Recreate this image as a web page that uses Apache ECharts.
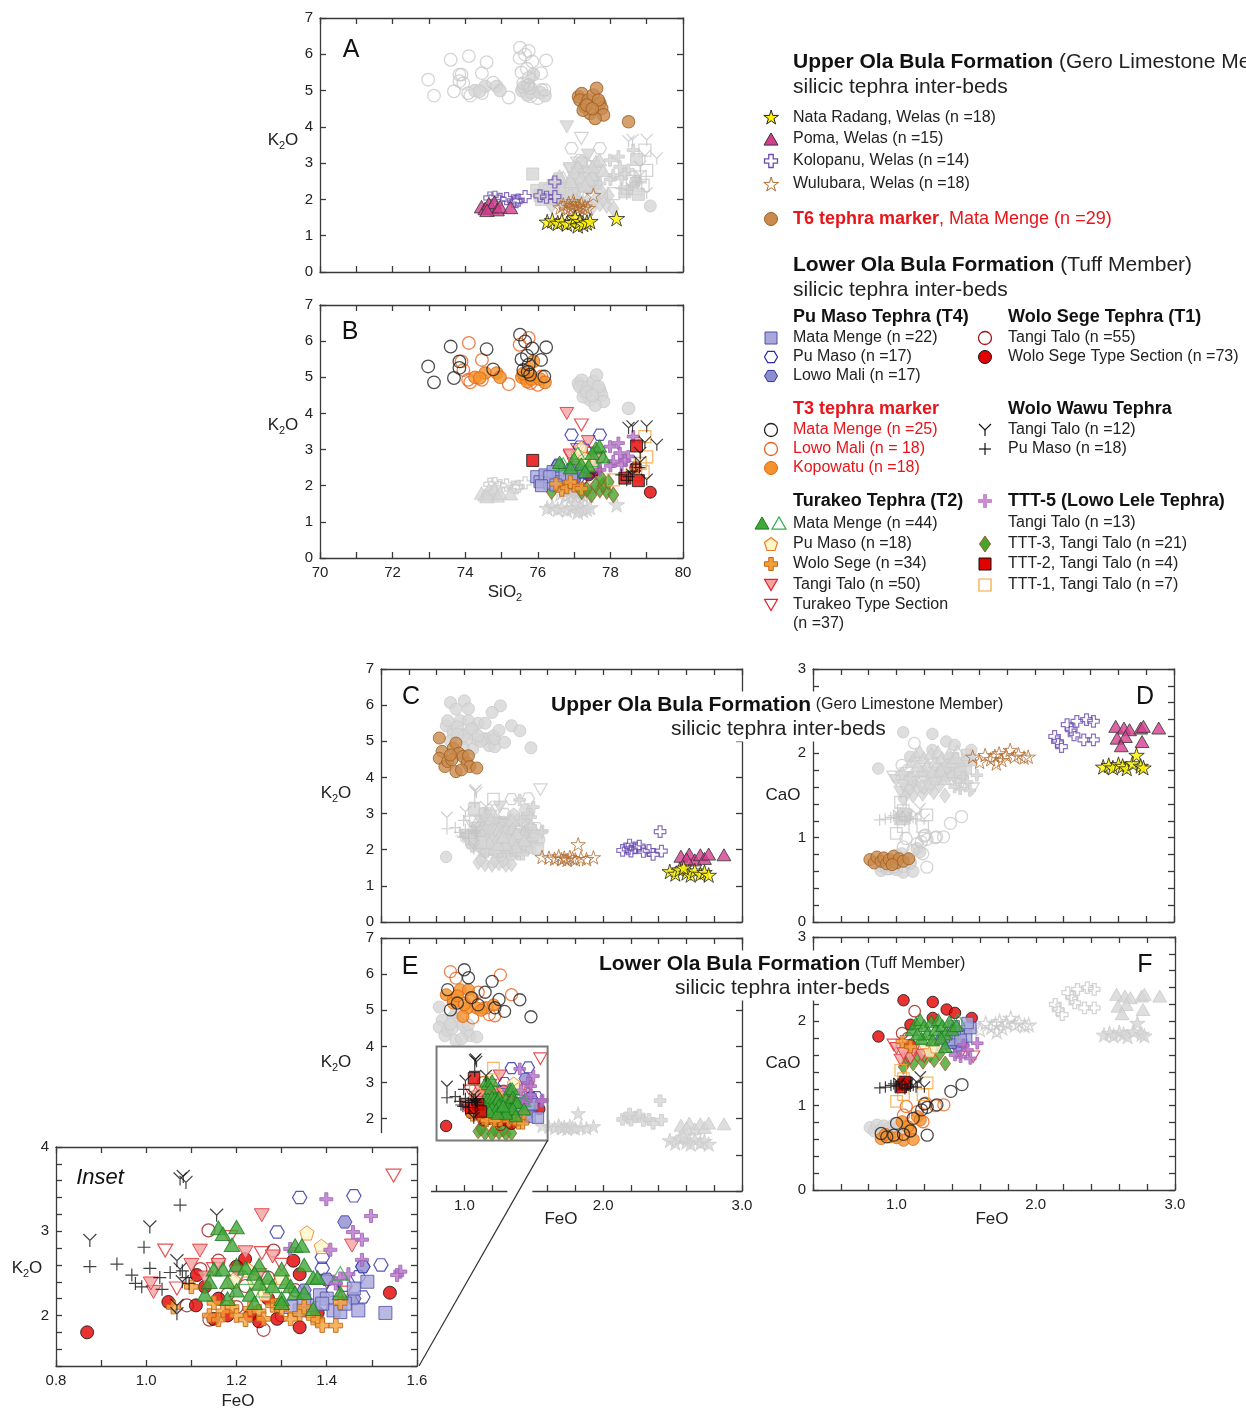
<!DOCTYPE html>
<html><head><meta charset="utf-8">
<script src="https://cdn.jsdelivr.net/npm/echarts@6/dist/echarts.min.js"></script>
<style>html,body{margin:0;padding:0;background:#fff}#c{width:1246px;height:1410px}</style>
</head><body><div id="c"></div>
<script>
// ================= DATA =================
// Upper Ola Bula Formation
const nataSiK = [[76.26,1.38],[76.4,1.42],[76.55,1.35],[76.66,1.4],[76.8,1.33],[76.94,1.37],[77.03,1.5],[77.1,1.28],[77.16,1.4],[77.25,1.32],[77.35,1.36],[77.44,1.4],[78.17,1.48]];
const nataFeK = [[2.48,1.4],[2.52,1.33],[2.55,1.45],[2.6,1.36],[2.63,1.3],[2.66,1.42],[2.7,1.33],[2.73,1.38],[2.76,1.3],[2.58,1.5]];
const nataFeCa = [[2.49,1.84],[2.53,1.86],[2.56,1.83],[2.6,1.87],[2.63,1.85],[2.66,1.82],[2.7,1.88],[2.73,1.98],[2.76,1.85],[2.78,1.83]];

const pomaSiK = [[74.45,1.8],[74.55,1.75],[74.65,1.88],[74.72,1.78],[74.8,1.92],[74.88,1.72],[74.96,1.8],[75.25,1.78],[74.6,1.7]];
const pomaFeK = [[2.56,1.82],[2.62,1.88],[2.66,1.72],[2.7,1.86],[2.73,1.76],[2.76,1.88],[2.87,1.86],[2.6,1.75]];
const pomaFeCa = [[2.58,2.32],[2.64,2.3],[2.68,2.28],[2.76,2.3],[2.78,2.32],[2.89,2.3],[2.59,2.18],[2.65,2.2],[2.62,2.09],[2.77,2.14]];

const koloSiK = [[74.68,2.04],[74.82,2.06],[74.96,2.0],[75.14,2.02],[75.33,1.96],[75.46,1.98],[75.65,2.08],[76.06,2.1],[76.24,2.06],[76.47,2.08],[76.47,2.48],[75.4,1.94]];
const koloFeK = [[2.14,1.98],[2.18,2.02],[2.2,1.96],[2.23,2.05],[2.26,2.1],[2.29,1.95],[2.33,1.98],[2.36,1.87],[2.42,1.96],[2.41,2.5],[2.19,2.13]];
const koloFeCa = [[2.14,2.2],[2.16,2.14],[2.19,2.08],[2.23,2.34],[2.26,2.28],[2.28,2.22],[2.3,2.38],[2.37,2.4],[2.42,2.38],[2.35,2.16],[2.42,2.16]];

const wuluSiK = [[76.62,1.78],[76.7,1.85],[76.78,1.72],[76.85,1.9],[76.9,1.8],[76.95,1.75],[77.0,1.86],[77.05,1.7],[77.1,1.82],[77.15,1.78],[77.2,1.88],[77.25,1.74],[77.3,1.8],[77.38,1.76],[76.98,1.95],[77.53,2.12]];
const wuluFeK = [[1.56,1.8],[1.61,1.78],[1.65,1.75],[1.68,1.82],[1.7,1.74],[1.72,1.78],[1.74,1.72],[1.76,1.8],[1.78,1.76],[1.8,1.73],[1.84,1.77],[1.88,1.74],[1.93,1.79],[1.82,2.15]];
const wuluFeCa = [[1.55,1.96],[1.6,1.9],[1.64,1.98],[1.68,1.93],[1.71,1.97],[1.74,2.0],[1.76,1.92],[1.79,1.98],[1.82,2.04],[1.85,1.96],[1.88,1.99],[1.92,1.95],[1.95,1.96],[1.72,1.88]];

const t6SiK = [[77.12,4.83],[77.21,4.92],[77.16,4.74],[77.3,4.55],[77.44,4.37],[77.39,4.74],[77.53,4.88],[77.62,5.06],[77.71,4.65],[77.76,4.51],[77.81,4.33],[77.67,4.74],[77.25,4.46],[77.58,4.23],[77.35,4.6],[77.5,4.5],[78.5,4.14]];
const t6FeK = [[0.82,5.09],[0.84,4.72],[0.82,4.53],[0.86,4.3],[0.88,4.44],[0.92,4.81],[0.94,4.95],[0.96,4.67],[0.94,4.16],[0.99,4.58],[1.02,4.4],[1.03,4.6],[1.04,4.3],[1.09,4.26],[0.91,4.49],[0.98,4.21],[0.9,4.62]];
const t6FeCa = [[0.81,0.74],[0.84,0.7],[0.86,0.77],[0.89,0.72],[0.91,0.76],[0.93,0.69],[0.95,0.74],[0.98,0.78],[1.0,0.7],[1.02,0.75],[1.05,0.72],[1.09,0.75],[0.97,0.68]];

// Lower Ola Bula Formation
const pmMMSiK = [[75.97,2.25],[76.06,2.11],[76.2,2.3],[76.33,2.07],[76.42,2.39],[76.56,2.21],[76.61,2.11],[76.75,2.3],[76.93,2.25],[76.33,2.25],[76.1,2.0],[76.5,2.02]];
const pmMMFeK = [[1.37,2.12],[1.385,2.24],[1.4,2.2],[1.415,2.06],[1.43,2.04],[1.44,2.14],[1.46,2.32],[1.47,2.06],[1.49,2.4],[1.53,2.03],[1.34,2.06],[1.35,2.18],[1.39,2.14],[1.32,2.1]];
const pmMMFeCa = [[1.33,1.74],[1.39,1.78],[1.44,1.86],[1.5,1.82],[1.53,1.92],[1.51,1.98],[1.41,1.94],[1.34,1.82],[1.46,1.78]];

const pmPMSiK = [[76.93,3.41],[77.71,3.41],[77.16,3.08],[77.07,2.58],[77.3,2.99],[76.56,2.58],[77.25,2.44],[76.98,2.3],[77.4,2.35],[77.1,2.2],[77.5,2.5]];
const pmPMFeK = [[1.34,3.4],[1.46,3.42],[1.29,2.99],[1.39,2.69],[1.39,2.56],[1.52,2.6],[1.48,2.58],[1.47,2.46],[1.48,2.22],[1.44,2.36],[1.415,2.3],[1.39,2.14]];
const pmPMFeCa = [[1.29,1.72],[1.36,1.76],[1.39,1.7],[1.44,1.72],[1.32,1.78]];

const lowoSiK = [[76.55,2.55],[76.9,2.45],[77.2,2.35],[77.35,2.5],[77.0,2.15]];
const lowoFeK = [[1.44,3.11],[1.48,2.58],[1.4,2.43],[1.46,2.2],[1.35,2.3]];
const lowoFeCa = [[1.44,1.7],[1.4,1.74],[1.47,1.76]];

const t3mmSiK = [[72.98,5.3],[73.14,4.86],[73.6,5.85],[73.69,4.98],[73.84,5.44],[73.84,5.26],[74.59,5.78],[74.77,5.22],[75.51,6.18],[75.65,5.99],[75.79,5.07],[76.09,5.48],[76.23,5.83],[76.18,5.02],[75.7,5.6],[75.75,5.35],[75.6,5.2],[75.85,5.8],[75.55,5.5],[75.72,5.15]];
const t3mmFeK = [[1.0,6.12],[0.88,5.57],[0.9,5.01],[1.2,5.8],[1.22,5.07],[1.4,5.29],[1.48,4.82],[1.29,4.97],[1.05,5.35],[1.1,5.15],[0.95,5.2],[1.15,5.5],[1.03,5.9],[1.25,5.3]];
const t3mmFeCa = [[1.22,0.65],[1.39,1.17],[1.47,1.25],[1.29,1.01],[1.18,0.95],[1.0,0.79],[0.98,0.65],[0.89,0.67],[1.12,0.85],[1.2,1.02],[1.05,0.66],[1.1,0.7],[1.22,0.98],[0.93,0.63]];

const t3lmSiK = [[73.9,5.44],[74.08,4.93],[74.14,4.86],[74.46,5.48],[74.46,4.93],[75.2,4.81],[75.5,5.9],[75.75,6.09],[75.8,4.84],[76.0,4.79],[75.66,4.98],[76.1,5.02],[74.1,5.95],[73.95,5.2]];
const t3lmFeK = [[0.9,6.07],[0.94,5.89],[1.26,5.98],[1.34,5.43],[1.16,5.07],[1.18,4.88],[1.06,4.79],[1.0,5.2],[1.1,5.5],[1.22,4.85]];
const t3lmFeCa = [[1.07,0.99],[1.21,1.03],[1.34,1.01],[1.05,0.89],[1.19,0.81],[1.15,0.93],[1.28,1.0]];

const kopoSiK = [[74.27,5.0],[74.55,5.12],[74.87,5.12],[74.96,5.0],[75.56,5.0],[75.71,4.88],[75.83,4.95],[76.06,4.95],[76.2,4.86],[75.88,5.44],[75.75,5.16],[74.4,4.98],[75.6,5.1]];
const kopoFeK = [[0.87,5.43],[0.92,5.29],[0.97,5.57],[1.03,5.57],[1.06,5.34],[1.09,5.06],[1.02,5.06],[1.14,5.06],[1.21,5.15],[0.99,4.83],[0.92,5.2],[1.0,5.15],[1.12,5.0],[0.95,5.4]];
const kopoFeCa = [[0.89,0.61],[0.95,0.63],[1.05,0.59],[1.1,0.71],[1.15,0.87],[1.17,0.83],[1.04,0.81],[1.08,0.75],[0.92,0.66],[1.0,0.62],[1.12,0.6]];

const t2mmSiK = [[77.6,3.05],[77.7,3.1],[77.5,2.9],[77.0,2.75],[77.2,2.6],[76.9,2.5],[77.4,2.55],[76.6,2.65],[77.8,2.8],[77.3,2.4]];
const t2mmFeK = [[1.16,3.04],[1.17,2.97],[1.2,3.05],[1.19,2.84],[1.33,2.83],[1.345,2.83],[1.15,2.55],[1.17,2.55],[1.14,2.4],[1.18,2.4],[1.2,2.6],[1.22,2.57],[1.25,2.6],[1.24,2.5],[1.27,2.45],[1.3,2.55],[1.31,2.4],[1.32,2.35],[1.35,2.6],[1.37,2.45],[1.38,2.45],[1.25,2.38],[1.2,2.3],[1.13,2.25],[1.23,2.25],[1.18,2.2],[1.3,2.2],[1.33,2.27],[1.35,2.27],[1.43,2.27],[1.37,2.08],[1.3,2.15],[1.24,2.15],[1.28,2.35]];
const t2mmFeCa = [[1.11,1.9],[1.14,1.98],[1.17,2.02],[1.2,1.95],[1.22,1.85],[1.25,2.0],[1.28,1.9],[1.3,2.02],[1.33,1.95],[1.35,1.85],[1.38,2.0],[1.4,1.9],[1.43,1.95],[1.18,1.8],[1.26,1.78],[1.32,1.8],[1.15,1.85],[1.35,1.7]];
const t2mmOpenSiK = [[76.7,2.6],[77.1,2.9],[77.5,2.7]];
const t2mmOpenFeK = [[1.43,2.5],[1.26,2.3],[1.22,2.45]];
const t2mmOpenFeCa = [[1.44,2.02],[1.3,1.88],[1.2,1.8]];

const t2pmSiK = [[77.2,3.04],[77.1,2.85],[77.5,2.6],[77.3,2.75]];
const t2pmFeK = [[1.356,2.98],[1.388,2.82],[1.226,2.54],[1.263,2.26],[1.27,2.34],[1.193,2.42],[1.3,2.45],[1.24,2.4]];
const t2pmFeCa = [[1.24,1.65],[1.2,1.75],[1.28,1.7]];

const t2wsSiK = [[76.66,1.88],[76.8,1.95],[77.0,2.0],[76.5,2.05],[77.2,1.92],[76.9,2.1]];
const t2wsFeK = [[1.06,2.1],[1.14,2.0],[1.15,2.15],[1.17,2.05],[1.19,2.1],[1.2,2.0],[1.23,2.08],[1.25,2.05],[1.26,1.96],[1.28,2.12],[1.3,2.08],[1.32,1.96],[1.34,2.02],[1.37,1.97],[1.38,1.95],[1.39,1.88],[1.42,1.88],[1.43,2.15],[1.35,2.1],[1.16,1.95],[1.22,1.95],[1.1,2.34],[1.29,2.12]];
const t2wsFeCa = [[1.04,1.76],[1.1,1.7]];

const t2ttSiK = [[76.8,4.0],[77.39,3.22],[76.89,2.85],[77.6,2.75],[77.0,2.6]];
const t2ttFeK = [[1.256,3.19],[1.119,2.77],[1.016,2.28],[1.01,2.38],[1.456,2.83],[1.1,2.6],[1.22,2.75],[1.16,2.6],[1.13,2.45],[1.2,2.52],[1.28,2.7],[1.25,2.48]];
const t2ttFeCa = [[1.0,1.68],[1.03,1.54],[1.1,1.56],[1.18,1.6],[1.05,1.62],[1.12,1.65]];

const t2typeSiK = [[77.2,3.68],[77.1,3.0],[77.5,2.9],[76.9,2.8]];
const t2typeFeK = [[1.548,3.66],[1.042,2.77],[1.186,2.93],[1.256,2.74],[1.068,2.32],[1.44,2.27],[1.4,2.4],[1.15,2.55],[1.3,2.6],[1.2,2.4]];
const t2typeFeCa = [[1.55,1.58],[0.98,1.72],[1.08,1.58],[1.2,1.58],[1.46,1.62]];

const t1ttSiK = [[77.2,3.0],[77.3,2.75],[77.4,2.5],[77.0,2.35],[77.2,2.2],[77.5,2.4],[77.7,2.8]];
const t1ttFeK = [[1.138,3.01],[1.282,2.77],[1.09,2.12],[1.26,1.83],[1.14,1.95],[1.2,2.1],[1.22,2.35],[1.3,2.0],[1.33,2.3],[1.18,2.25],[1.12,2.55],[1.27,2.45],[1.36,2.05],[1.16,2.65]];
const t1ttFeCa = [[1.13,2.12],[1.04,1.86],[1.08,1.8]];

const t1typeSiK = [[79.1,1.82],[77.4,2.3],[77.6,2.45],[77.0,2.2],[76.8,2.35],[78.7,2.5]];
const t1typeFeK = [[0.869,1.8],[1.54,2.27],[1.326,2.65],[1.34,1.86],[1.219,2.67],[1.11,2.12],[1.049,2.16],[1.112,2.48],[1.149,1.96],[1.18,2.0],[1.23,2.0],[1.25,1.93],[1.29,1.96],[1.34,2.49],[1.38,2.03],[1.13,2.34],[1.2,2.58],[1.27,2.2],[1.16,2.2]];
const t1typeFeCa = [[0.87,1.82],[1.05,2.25],[1.26,2.23],[1.36,2.14],[1.42,2.1],[1.54,2.04],[1.1,1.96],[1.1,1.72],[1.26,2.04]];

const wwttSiK = [[78.61,3.64],[78.5,3.6],[79.0,3.64],[79.28,3.13],[78.95,3.2],[78.82,2.9],[78.82,2.65],[79.0,2.17],[78.6,2.3]];
const wwttFeK = [[0.875,2.89],[1.008,3.05],[1.075,3.62],[1.082,3.65],[1.088,3.58],[1.156,3.19],[1.068,2.65],[1.075,2.55],[1.08,2.4],[1.068,2.12],[1.068,2.02]];
const wwttFeCa = [[1.17,1.34],[1.02,1.26],[1.08,1.25],[1.12,1.24],[1.15,1.27],[1.2,1.22]];

const wwpmSiK = [[78.3,2.3],[78.5,2.25],[78.6,2.4],[78.45,2.15],[78.7,2.6],[78.8,2.5]];
const wwpmFeK = [[0.875,2.58],[0.935,2.61],[0.968,2.48],[0.976,2.38],[0.99,2.34],[0.995,2.81],[1.008,2.56],[1.03,2.45],[1.035,2.31],[1.053,2.51],[1.075,3.31],[1.08,2.53],[1.088,2.45],[1.095,2.38]];
const wwpmFeCa = [[0.88,1.21],[0.92,1.22],[0.96,1.24],[1.0,1.23],[1.04,1.25],[1.06,1.2],[1.1,1.23],[1.14,1.22],[0.98,1.26]];

const ttt5SiK = [[78.63,3.36],[78.22,3.18],[77.99,3.08],[78.26,2.9],[78.49,2.81],[78.08,2.67],[78.31,2.58],[77.71,2.44],[78.0,2.55],[78.4,2.7]];
const ttt5FeK = [[1.399,3.38],[1.498,3.18],[1.458,2.99],[1.478,2.9],[1.408,2.78],[1.319,2.79],[1.478,2.66],[1.448,2.49],[1.43,2.44],[1.563,2.52],[1.556,2.48],[1.42,2.38]];
const ttt5FeCa = [[1.48,1.72],[1.58,1.74],[1.51,1.66],[1.46,1.58],[1.53,1.56],[1.42,1.6]];

const ttt3SiK = [[76.38,1.84],[77.21,1.84],[77.48,1.75],[77.71,1.88],[77.9,1.84],[78.08,1.75],[77.6,2.02],[77.8,2.02],[77.75,2.21],[77.35,1.9],[77.95,2.1]];
const ttt3FeK = [[1.1,1.65],[1.15,1.6],[1.2,1.58],[1.25,1.62],[1.3,1.58],[1.34,1.6],[1.12,1.72],[1.22,1.7],[1.28,1.7]];
const ttt3FeCa = [[1.05,1.46],[1.12,1.5],[1.19,1.52],[1.27,1.54],[1.35,1.5],[1.15,1.6],[1.24,1.6],[1.31,1.62],[1.08,1.55]];

const ttt2SiK = [[75.86,2.7],[78.72,3.1],[78.4,2.21],[78.77,2.14]];
const ttt2FeK = [[1.07,3.12],[1.1,2.4],[1.05,2.3],[1.12,2.2]];
const ttt2FeCa = [[1.05,1.25],[1.07,1.27],[1.03,1.22],[1.06,1.28]];

const ttt1SiK = [[78.95,3.36],[78.82,2.62],[78.9,2.39],[78.08,2.16],[79.0,2.8],[78.7,2.3],[78.6,2.5]];
const ttt1FeK = [[1.21,3.4],[1.15,3.0],[1.1,2.6],[1.25,2.5],[1.18,2.3],[1.08,2.8],[1.3,2.7]];
const ttt1FeCa = [[1.03,1.42],[1.05,1.32],[1.05,1.23],[1.05,1.13],[1.22,1.27],[1.19,1.13],[1.0,1.05]];

// ================= STYLE / LAYOUT =================
const FONT = '"Liberation Sans", Arial, sans-serif';
const T = 'rgba(255,255,255,0)';
const SHAPES = {
  star: [[50,0],[61,35],[98,35],[68,57],[79,91],[50,70],[21,91],[32,57],[2,35],[39,35]],
  tri: [[50,0],[100,87],[0,87]],
  invtri: [[0,0],[100,0],[50,87]],
  cross: [[33,0],[67,0],[67,33],[100,33],[100,67],[67,67],[67,100],[33,100],[33,67],[0,67],[0,33],[33,33]],
  plus5: [[38,0],[62,0],[62,38],[100,38],[100,62],[62,62],[62,100],[38,100],[38,62],[0,62],[0,38],[38,38]],
  hex: [[25,0],[75,0],[100,43],[75,86],[25,86],[0,43]],
  pent: [[50,0],[100,38],[81,100],[19,100],[0,38]],
  diamond: [[35,0],[70,50],[35,100],[0,50]]
};
const SYM = {circle:'circle', square:'rect',
  Y:'path://M0,0 L50,50 L100,0 M50,50 L50,100',
  plus:'path://M50,0 L50,100 M0,50 L100,50'};
Object.keys(SHAPES).forEach(k => { SYM[k] = 'path://M' + SHAPES[k].map(p => p.join(',')).join(' L') + ' Z'; });

const upperDefs = [
  {sym:'star', k:1.25, fill:T, stroke:'#b36b2c', SiK:wuluSiK, FeK:wuluFeK, FeCa:wuluFeCa},
  {sym:'cross', k:1.0, fill:T, stroke:'#6a4cb0', bw:1.2, SiK:koloSiK, FeK:koloFeK, FeCa:koloFeCa},
  {sym:'circle', k:1.05, fill:'#c98a4b', stroke:'#9c5f25', SiK:t6SiK, FeK:t6FeK, FeCa:t6FeCa},
  {sym:'tri', k:1.2, fill:'#d63f8e', stroke:'#333', SiK:pomaSiK, FeK:pomaFeK, FeCa:pomaFeCa},
  {sym:'star', k:1.35, fill:'#fff200', stroke:'#222', SiK:nataSiK, FeK:nataFeK, FeCa:nataFeCa}
];
const lowerDefs = [
  {sym:'circle', k:1.05, fill:T, stroke:'#e8631c', bw:1.3, inset:false, SiK:t3lmSiK, FeK:t3lmFeK, FeCa:t3lmFeCa},
  {sym:'circle', k:1.05, fill:'#f5922c', stroke:'#e06512', inset:false, SiK:kopoSiK, FeK:kopoFeK, FeCa:kopoFeCa},
  {sym:'circle', k:1.05, fill:T, stroke:'#222', bw:1.3, inset:false, SiK:t3mmSiK, FeK:t3mmFeK, FeCa:t3mmFeCa},
  {sym:'diamond', k:1.3, fill:'#45a52e', stroke:'#9c5e26', inset:false, SiK:ttt3SiK, FeK:ttt3FeK, FeCa:ttt3FeCa},
  {sym:'circle', k:1.0, fill:T, stroke:'#a01414', bw:1.2, SiK:t1ttSiK, FeK:t1ttFeK, FeCa:t1ttFeCa},
  {sym:'circle', k:1.0, fill:'#e30000', stroke:'#111', SiK:t1typeSiK, FeK:t1typeFeK, FeCa:t1typeFeCa},
  {sym:'invtri', k:1.15, fill:T, stroke:'#e2242a', bw:1.2, SiK:t2typeSiK, FeK:t2typeFeK, FeCa:t2typeFeCa},
  {sym:'invtri', k:1.15, fill:'#f3a2a2', stroke:'#e2242a', SiK:t2ttSiK, FeK:t2ttFeK, FeCa:t2ttFeCa},
  {sym:'hex', k:1.1, fill:T, stroke:'#2b2ba8', bw:1.2, SiK:pmPMSiK, FeK:pmPMFeK, FeCa:pmPMFeCa},
  {sym:'hex', k:1.1, fill:'#8c8cd0', stroke:'#32329a', SiK:lowoSiK, FeK:lowoFeK, FeCa:lowoFeCa},
  {sym:'square', k:1.0, fill:'#a8a8dc', stroke:'#4e4ea6', SiK:pmMMSiK, FeK:pmMMFeK, FeCa:pmMMFeCa},
  {sym:'pent', k:1.1, fill:'#fff6c8', stroke:'#f07a22', SiK:t2pmSiK, FeK:t2pmFeK, FeCa:t2pmFeCa},
  {sym:'square', k:1.0, fill:T, stroke:'#f5a23a', bw:1.2, inset:false, SiK:ttt1SiK, FeK:ttt1FeK, FeCa:ttt1FeCa},
  {sym:'cross', k:1.05, fill:'#f4a03a', stroke:'#c0620e', SiK:t2wsSiK, FeK:t2wsFeK, FeCa:t2wsFeCa},
  {sym:'plus5', k:1.0, fill:'#b574c8', stroke:'#a060b8', SiK:ttt5SiK, FeK:ttt5FeK, FeCa:ttt5FeCa},
  {sym:'tri', k:1.2, fill:T, stroke:'#2fae4a', bw:1.2, SiK:t2mmOpenSiK, FeK:t2mmOpenFeK, FeCa:t2mmOpenFeCa},
  {sym:'tri', k:1.2, fill:'#3fa83a', stroke:'#1e7a1e', SiK:t2mmSiK, FeK:t2mmFeK, FeCa:t2mmFeCa},
  {sym:'square', k:1.0, fill:'#e30000', stroke:'#111', inset:false, SiK:ttt2SiK, FeK:ttt2FeK, FeCa:ttt2FeCa},
  {sym:'Y', k:1.0, fill:T, stroke:'#111', bw:1.2, SiK:wwttSiK, FeK:wwttFeK, FeCa:wwttFeCa},
  {sym:'plus', k:1.0, fill:T, stroke:'#111', bw:1.2, SiK:wwpmSiK, FeK:wwpmFeK, FeCa:wwpmFeCa}
];

const GRIDS = [
  {left:320, top:18, width:363, height:254},
  {left:320, top:305, width:363, height:253},
  {left:381, top:669, width:361, height:253},
  {left:813, top:669, width:361, height:253},
  {left:381, top:938, width:361, height:253},
  {left:813, top:937, width:362, height:253},
  {left:56, top:1147, width:361, height:219}
];
const isInt = v => Math.abs(v - Math.round(v)) < 1e-6;
const fAll = v => String(Math.round(v));
const fInt = v => isInt(v) ? String(Math.round(v)) : '';
const fFe = v => (isInt(v) && v > 0.5) ? v.toFixed(1) : '';
const AX = [
  {x:[70,80,1,null], y:[0,7,1,fAll]},
  {x:[70,80,1,v => isInt(v/2) ? String(Math.round(v)) : ''], y:[0,7,1,fAll]},
  {x:[0.4,3,0.2,null], y:[0,7,1,fAll]},
  {x:[0.4,3,0.2,null], y:[0,3,0.2,fInt]},
  {x:[0.4,3,0.2,fFe], y:[0,7,1,fAll]},
  {x:[0.4,3,0.2,fFe], y:[0,3,0.2,fInt]},
  {x:[0.8,1.6,0.1,v => isInt(Math.round(v*10)/2) ? v.toFixed(1) : ''], y:[1.4,4,0.2,fInt]}
];

const xAxes = [], yAxes = [];
function axis(g, dim, pos, cfg, z) {
  const [min, max, interval, fmt] = cfg;
  const lab = (pos === 'bottom' || pos === 'left') && fmt;
  return {type:'value', gridIndex:g, position:pos, min, max, interval, z,
    splitLine:{show:false},
    axisLine:{show:true, onZero:false, lineStyle:{color:'#3a3a3a', width:1.3}},
    axisTick:{show:true, inside:true, length:6, lineStyle:{color:'#3a3a3a', width:1.3}},
    axisLabel: lab ? {show:true, formatter:fmt, color:'#222', fontSize:15, fontFamily:FONT, margin:7} : {show:false}
  };
}
GRIDS.forEach((gr, g) => {
  const z = g === 6 ? 6 : 0;
  xAxes.push(axis(g, 'x', 'bottom', AX[g].x, z), axis(g, 'x', 'top', AX[g].x, z));
  yAxes.push(axis(g, 'y', 'left', AX[g].y, z), axis(g, 'y', 'right', AX[g].y, z));
});

function grayStyle(d, mode) {
  if (d.sym === 'Y' || d.sym === 'plus') return {color:T, borderColor:'#c4c4c4', borderWidth:1.2};
  const solid = mode === 'solid' || (mode === 'solidCircle' && d.sym === 'circle');
  if (d.fill === T && !solid) return {color:T, borderColor:'#c9c9c9', borderWidth:1.3};
  return {color:'#d6d6d6', borderColor:'#cbcbcb', borderWidth:1};
}
function colorStyle(d) { return {color:d.fill, borderColor:d.stroke, borderWidth:d.bw || 1}; }
function mk(d, data, g, base, style, z) {
  return {type:'scatter', xAxisIndex:2*g, yAxisIndex:2*g, data, symbol:SYM[d.sym], symbolKeepAspect:true,
    symbolSize: base * (d.k || 1), itemStyle:style, z, silent:true, animation:false, clip:true};
}
const SA = 12, SC = 11.5, SI = 13;
const series = [];
// A: SiO2-K2O upper colored
lowerDefs.forEach(d => series.push(mk(d, d.SiK, 0, SA, grayStyle(d,'norm'), 2)));
upperDefs.forEach(d => series.push(mk(d, d.SiK, 0, SA, colorStyle(d), 3)));
// B: lower colored
upperDefs.forEach(d => series.push(mk(d, d.SiK, 1, SA, grayStyle(d,'norm'), 2)));
lowerDefs.forEach(d => series.push(mk(d, d.SiK, 1, SA, colorStyle(d), 3)));
// C, D
lowerDefs.forEach(d => series.push(mk(d, d.FeK, 2, SC, grayStyle(d,'solidCircle'), 2)));
upperDefs.forEach(d => series.push(mk(d, d.FeK, 2, SC, colorStyle(d), 3)));
lowerDefs.forEach(d => series.push(mk(d, d.FeCa, 3, SC, grayStyle(d,'norm'), 2)));
upperDefs.forEach(d => series.push(mk(d, d.FeCa, 3, SC, colorStyle(d), 3)));
// E, F
upperDefs.forEach(d => series.push(mk(d, d.FeK, 4, SC, grayStyle(d,'solid'), 2)));
lowerDefs.forEach(d => series.push(mk(d, d.FeK, 4, SC, colorStyle(d), 3)));
upperDefs.forEach(d => series.push(mk(d, d.FeCa, 5, SC, grayStyle(d,'norm'), 2)));
lowerDefs.forEach(d => series.push(mk(d, d.FeCa, 5, SC, colorStyle(d), 3)));
// Inset
lowerDefs.filter(d => d.inset !== false).forEach(d => series.push(mk(d, d.FeK, 6, SI, colorStyle(d), 7)));

const chart = echarts.init(document.getElementById('c'), null, {renderer:'canvas'});
chart.setOption({
  animation:false, backgroundColor:'#fff',
  grid: GRIDS.map(g => Object.assign({containLabel:false, show:false}, g)),
  xAxis: xAxes, yAxis: yAxes, series
});

// ================= GRAPHIC (labels, legend, inset frame) =================
const G = [];
function txt(x, y, text, style, z) {
  G.push({type:'text', x, y, z: z || 20, silent:true,
    style: Object.assign({text, fontFamily:FONT, fontSize:16, fill:'#222', align:'left', verticalAlign:'middle'}, style || {})});
}
function sub(x, y, a, b, c, fs) {
  txt(x, y, a + '{s|' + b + '}' + c, {align:'center', fontSize:fs || 17,
    rich:{s:{fontSize:11, fontFamily:FONT, fill:'#222', padding:[11,0,0,0]}}});
}
function legSym(shape, cx, cy, s, fill, stroke, lw) {
  lw = lw || 1;
  const st = {fill, stroke, lineWidth:lw};
  if (shape === 'circle') { G.push({type:'circle', z:20, shape:{cx, cy, r:s/2}, style:st}); return; }
  if (shape === 'square') { G.push({type:'rect', z:20, shape:{x:cx-s/2, y:cy-s/2, width:s, height:s}, style:st}); return; }
  if (shape === 'Y') {
    G.push({type:'polyline', z:20, shape:{points:[[cx-s/2,cy-s/2],[cx,cy],[cx+s/2,cy-s/2]]}, style:{stroke, lineWidth:lw, fill:null}});
    G.push({type:'line', z:20, shape:{x1:cx, y1:cy, x2:cx, y2:cy+s/2}, style:{stroke, lineWidth:lw}});
    return;
  }
  if (shape === 'plus') {
    G.push({type:'line', z:20, shape:{x1:cx-s/2, y1:cy, x2:cx+s/2, y2:cy}, style:{stroke, lineWidth:lw}});
    G.push({type:'line', z:20, shape:{x1:cx, y1:cy-s/2, x2:cx, y2:cy+s/2}, style:{stroke, lineWidth:lw}});
    return;
  }
  const pts = SHAPES[shape];
  const w = Math.max(...pts.map(p => p[0])), h = Math.max(...pts.map(p => p[1]));
  const sc = s / Math.max(w, h);
  G.push({type:'polygon', z:20, shape:{points: pts.map(p => [cx + (p[0]-w/2)*sc, cy + (p[1]-h/2)*sc])}, style:st});
}

// axis titles
sub(283, 140, 'K', '2', 'O'); sub(283, 425, 'K', '2', 'O');
sub(505, 592, 'SiO', '2', '');
sub(336, 793, 'K', '2', 'O'); sub(336, 1062, 'K', '2', 'O'); sub(27, 1268, 'K', '2', 'O');
txt(783, 795, 'CaO', {align:'center', fontSize:17});
txt(783, 1063, 'CaO', {align:'center', fontSize:17});
txt(561, 1219, 'FeO', {align:'center', fontSize:17});
txt(992, 1219, 'FeO', {align:'center', fontSize:17});
txt(238, 1401, 'FeO', {align:'center', fontSize:17});
// panel letters
[['A',351,50],['B',350,332],['C',411,697],['D',1145,697],['E',410,967],['F',1145,965]].forEach(p =>
  txt(p[1], p[2], p[0], {align:'center', fontSize:25, fill:'#111'}));
txt(100, 1178, 'Inset', {align:'center', fontSize:22, fontStyle:'italic', fill:'#111'});

// titles inside C/D and E/F
const bRich = {b:{fontWeight:'bold', fontSize:21, fontFamily:FONT, fill:'#111'}, n:{fontSize:16, fontFamily:FONT, fill:'#222'}};
txt(547, 705, '{b|Upper Ola Bula Formation}{n| (Gero Limestone Member)}', {rich:bRich, backgroundColor:'#fff', padding:[3,4,3,4]}, 12);
txt(667, 729, 'silicic tephra inter-beds', {fontSize:21, backgroundColor:'#fff', padding:[2,4,2,4]}, 12);
txt(595, 964, '{b|Lower Ola Bula Formation}{n| (Tuff Member)}', {rich:bRich, backgroundColor:'#fff', padding:[3,4,3,4]}, 12);
txt(671, 988, 'silicic tephra inter-beds', {fontSize:21, backgroundColor:'#fff', padding:[2,4,2,4]}, 12);

// Legend (right side)
const bigRich = {b:{fontWeight:'bold', fontSize:21, fontFamily:FONT, fill:'#111'}};
txt(793, 62, '{b|Upper Ola Bula Formation} (Gero Limestone Member)', {fontSize:21, rich:bigRich});
txt(793, 87, 'silicic tephra inter-beds', {fontSize:21});
const RED = '#e8141a';
legSym('star', 771, 117, 15, '#fff200', '#222', 1); txt(793, 118, 'Nata Radang, Welas (n =18)');
legSym('tri', 771, 139, 14, '#d63f8e', '#333', 1); txt(793, 139, 'Poma, Welas (n =15)');
legSym('cross', 771, 161, 13, '#fff', '#6a4cb0', 1.3); txt(793, 161, 'Kolopanu, Welas (n =14)');
legSym('star', 771, 184, 15, '#fff', '#b36b2c', 1); txt(793, 184, 'Wulubara, Welas (n =18)');
legSym('circle', 771, 219, 13, '#c98a4b', '#9c5f25', 1);
txt(793, 219, '{b|T6 tephra marker}, Mata Menge (n =29)', {fontSize:18, fill:RED,
  rich:{b:{fontWeight:'bold', fontSize:18, fontFamily:FONT, fill:RED}}});
txt(793, 265, '{b|Lower Ola Bula Formation} (Tuff Member)', {fontSize:21, rich:bigRich});
txt(793, 290, 'silicic tephra inter-beds', {fontSize:21});
const H = {fontWeight:'bold', fontSize:18, fill:'#111'};
// column 1
txt(793, 317, 'Pu Maso Tephra (T4)', H);
legSym('square', 771, 338, 12, '#a8a8dc', '#4e4ea6', 1); txt(793, 338, 'Mata Menge (n =22)');
legSym('hex', 771, 357, 13, '#fff', '#2b2ba8', 1.2); txt(793, 357, 'Pu Maso (n =17)');
legSym('hex', 771, 376, 13, '#8c8cd0', '#32329a', 1); txt(793, 376, 'Lowo Mali (n =17)');
txt(793, 409, 'T3 tephra marker', Object.assign({}, H, {fill:RED}));
legSym('circle', 771, 430, 13, '#fff', '#222', 1.3); txt(793, 430, 'Mata Menge (n =25)', {fill:RED});
legSym('circle', 771, 449, 13, '#fff', '#e8631c', 1.3); txt(793, 449, 'Lowo Mali (n = 18)', {fill:RED});
legSym('circle', 771, 468, 13, '#f5922c', '#e06512', 1); txt(793, 468, 'Kopowatu (n =18)', {fill:RED});
txt(793, 501, 'Turakeo Tephra (T2)', H);
legSym('tri', 762, 523, 14, '#3fa83a', '#1e7a1e', 1); legSym('tri', 779, 523, 14, '#fff', '#2fae4a', 1.2);
txt(793, 524, 'Mata Menge (n =44)');
legSym('pent', 771, 544, 13, '#fff6c8', '#f07a22', 1.2); txt(793, 544, 'Pu Maso (n =18)');
legSym('cross', 771, 564, 13, '#f4a03a', '#c0620e', 1); txt(793, 564, 'Wolo Sege (n =34)');
legSym('invtri', 771, 585, 13, '#f3a2a2', '#e2242a', 1.2); txt(793, 585, 'Tangi Talo (n =50)');
legSym('invtri', 771, 605, 13, '#fff', '#e2242a', 1.2); txt(793, 605, 'Turakeo Type Section');
txt(793, 624, '(n =37)');
// column 2
txt(1008, 317, 'Wolo Sege Tephra (T1)', H);
legSym('circle', 985, 338, 13, '#fff', '#a01414', 1.3); txt(1008, 338, 'Tangi Talo (n =55)');
legSym('circle', 985, 357, 13, '#e30000', '#111', 1); txt(1008, 357, 'Wolo Sege Type Section (n =73)');
txt(1008, 409, 'Wolo Wawu Tephra', H);
legSym('Y', 985, 430, 12, '#fff', '#111', 1.2); txt(1008, 430, 'Tangi Talo (n =12)');
legSym('plus', 985, 449, 12, '#fff', '#111', 1.2); txt(1008, 449, 'Pu Maso (n =18)');
legSym('plus5', 985, 501, 13, '#c98bd0', '#c98bd0', 1); txt(1008, 501, 'TTT-5 (Lowo Lele Tephra)', H);
txt(1008, 523, 'Tangi Talo (n =13)');
legSym('diamond', 985, 544, 16, '#45a52e', '#9c5e26', 1); txt(1008, 544, 'TTT-3, Tangi Talo (n =21)');
legSym('square', 985, 564, 12, '#e30000', '#111', 1); txt(1008, 564, 'TTT-2, Tangi Talo (n =4)');
legSym('square', 985, 585, 12, '#fff', '#f5a23a', 1.2); txt(1008, 585, 'TTT-1, Tangi Talo (n =7)');

// Inset frame in E, connector, covers
const pE = (x, y) => chart.convertToPixel({xAxisIndex:8, yAxisIndex:8}, [x, y]);
const pI = (x, y) => chart.convertToPixel({xAxisIndex:12, yAxisIndex:12}, [x, y]);
const b1 = pE(0.8, 4), b2 = pE(1.6, 1.4), ic = pI(1.6, 1.4), iTL = pI(0.8, 4);
G.push({type:'rect', z:9, silent:true, shape:{x:b1[0], y:b1[1], width:b2[0]-b1[0], height:b2[1]-b1[1]}, style:{fill:null, stroke:'#7a7a7a', lineWidth:2}});
// gaps in E axes
const e0 = pE(0.4, 0), eA = pE(0.76, 0), eB = pE(1.31, 0), eC = pE(1.49, 0), eY = pE(0.4, 1.6);
G.push({type:'rect', z:4, silent:true, shape:{x:e0[0]-6, y:e0[1]-8, width:eA[0]-e0[0]+6, height:12}, style:{fill:'#fff'}});
G.push({type:'rect', z:4, silent:true, shape:{x:eB[0], y:eB[1]-8, width:eC[0]-eB[0], height:12}, style:{fill:'#fff'}});
G.push({type:'rect', z:4, silent:true, shape:{x:eY[0]-6, y:eY[1], width:14, height:e0[1]-eY[1]+6}, style:{fill:'#fff'}});
// inset white background (covers E's lower-left)
G.push({type:'rect', z:5, silent:true, shape:{x:iTL[0], y:iTL[1], width:ic[0]-iTL[0], height:ic[1]-iTL[1]}, style:{fill:'#fff'}});
G.push({type:'line', z:9, silent:true, shape:{x1:b2[0], y1:b2[1], x2:ic[0]+2, y2:ic[1]}, style:{stroke:'#333', lineWidth:1.2}});

chart.setOption({graphic: G});
</script></body></html>
